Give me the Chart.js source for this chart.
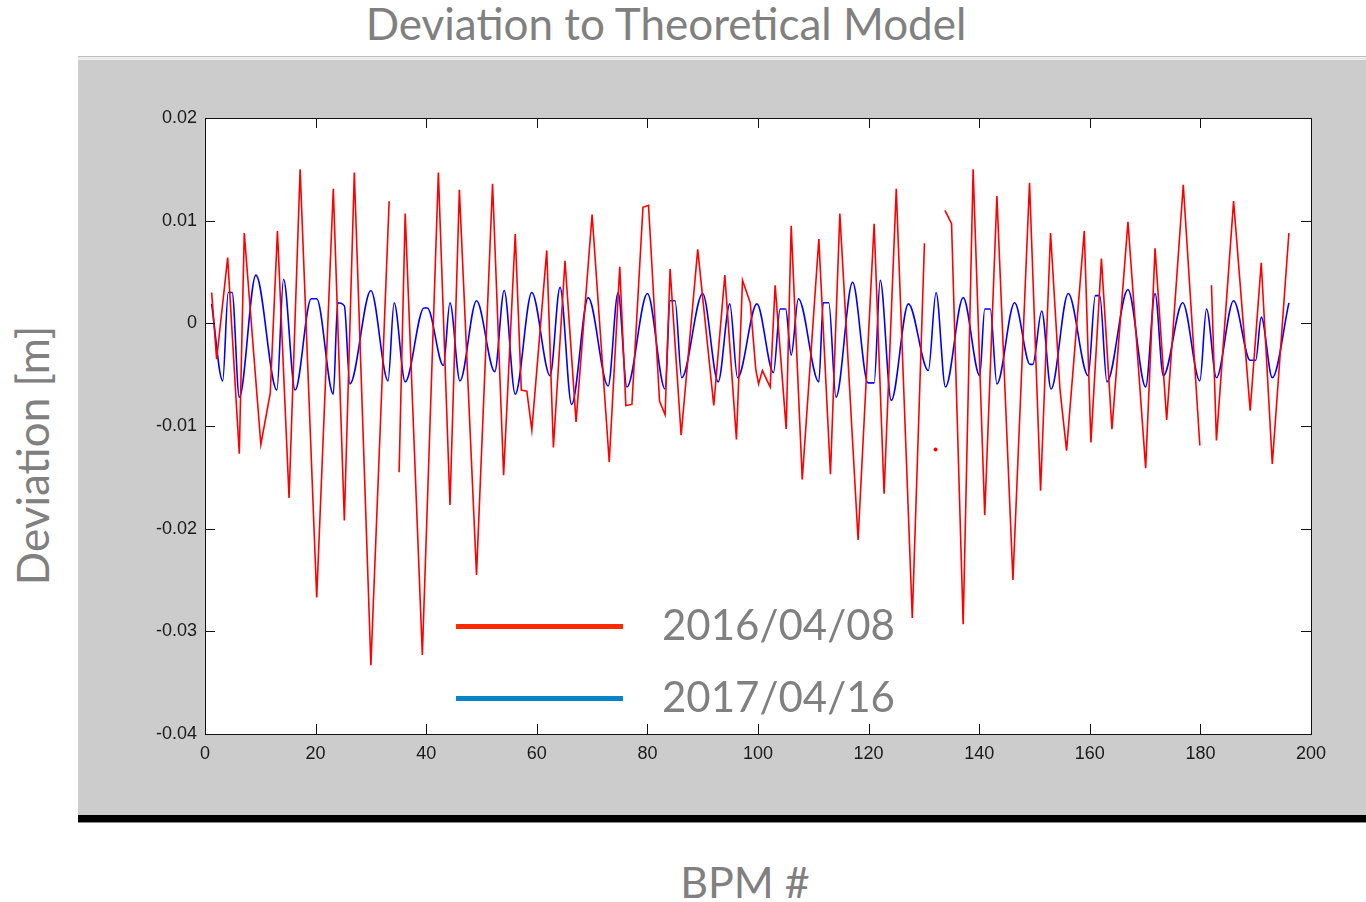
<!DOCTYPE html>
<html>
<head>
<meta charset="utf-8">
<script src="https://cdn.jsdelivr.net/npm/chart.js@4.4.1/dist/chart.umd.min.js"></script>
<style>
  html, body { margin:0; padding:0; background:#ffffff; }
  #wrap { position:relative; width:1366px; height:902px; overflow:hidden; }
  .abs { position:absolute; }
  .txt { font-family: Lato, "Open Sans", sans-serif; color:#808080; line-height:1.2; white-space:nowrap; }
  canvas { position:absolute; left:0; top:0; }
</style>
</head>
<body>
<div id="wrap">
  <div class="abs" style="left:78px;top:56px;width:1288px;height:1px;background:#bdbdbd"></div>
  <div class="abs" style="left:78px;top:57px;width:1288px;height:3px;background:#ececec"></div>
  <div class="abs" style="left:78px;top:60px;width:1288px;height:755px;background:#cccccc"></div>
  <div class="abs" style="left:78px;top:815px;width:1288px;height:7px;background:#000000"></div>
  <div class="abs" style="left:78px;top:822px;width:1288px;height:1px;background:#8a8a8a"></div>

  <div id="title" class="abs txt" style="left:266px;width:800px;text-align:center;top:-3px;font-size:44px"></div>
  <div id="xtitle" class="abs txt" style="left:545px;width:400px;text-align:center;top:856px;font-size:43px"></div>
  <div id="ytitle" class="abs txt" style="left:-168px;width:400px;height:53px;text-align:center;top:429px;font-size:44px;transform:rotate(-90deg);transform-origin:50% 50%"></div>

  <canvas id="c" width="1366" height="902"></canvas>
  <div id="legend"></div>
</div>
<script>
// ---- text ----
const chartTitle = "Deviation to Theoretical Model";
const xAxisTitle = "BPM #";
const yAxisTitle = "Deviation [m]";

// ---- tick labels ----
const xTickValues = [0, 20, 40, 60, 80, 100, 120, 140, 160, 180, 200];
const xTickLabels = ["0", "20", "40", "60", "80", "100", "120", "140", "160", "180", "200"];
const yTickValues = [-0.04, -0.03, -0.02, -0.01, 0, 0.01, 0.02];
const yTickLabels = ["-0.04", "-0.03", "-0.02", "-0.01", "0", "0.01", "0.02"];

// ---- series ----
const seriesLabels = ["2016/04/08", "2017/04/16"];

// 2016/04/08 (red); null = gap in the trace
const redX = [1.2, 2.1, 4.1, 6.2, 7.1, 10.1, 11.8, 13.1, 15.2, 17.2, 20.2, 23.2, 25.2, 27, 30, 33.3,
  34.2, 35.1, 36.2, 39.3, 42.2, 44.3, 46, 49.1, 52, 54, 56.1, 57.2, 58.2, 59.1, 61.8, 63, 65.1, 67.1,
  70, 73.1, 75, 76.1, 77.2, 79.2, 80.2, 82.2, 83.2, 84.1, 86.1, 89.1, 92, 94, 96.1, 97.2, 98.6, 99.6,
  100.1, 100.8, 102.2, 103.1, 105.1, 106, 108, 111, 113.1, 114.8, 118.1, 121, 122.8, 125, 127.9, 130.1,
  131, 132.1, 133, 133.8, 135, 137.1, 138.9, 141, 143.2, 146.1, 149.1, 151.1, 152.9, 154.6, 155.8, 159,
  160.2, 162.1, 164, 166.9, 170.1, 171.8, 173.9, 176.9, 179.9, 181, 182, 182.9, 186, 189, 191, 193, 196];
const redY = [0.003, -0.0035, 0.0064, -0.0127, 0.0088, -0.0118, -0.0068, 0.009, -0.017, 0.015, -0.0267, 0.0131, -0.0192, 0.0147, -0.0333, 0.0119,
  null, -0.0145, 0.0107, -0.0323, 0.0147, -0.0177, 0.013, -0.0245, 0.0136, -0.0148, 0.0087, -0.0065, -0.0066, -0.0104, 0.0071, -0.0121, 0.0061, -0.0096,
  0.0106, -0.0135, 0.0055, -0.008, -0.0079, 0.0113, 0.0115, -0.0076, -0.0089, 0.0053, -0.0109, 0.0072, -0.008, 0.0047, -0.0113, 0.0042, 0.002, -0.0045,
  -0.0059, -0.0046, -0.0062, 0.0037, -0.0103, 0.0095, -0.0152, 0.0082, -0.0147, 0.0107, -0.0211, 0.0097, -0.0166, 0.0131, -0.0287, 0.0078,
  null, -0.0123, null, 0.011, 0.0097, -0.0293, 0.015, -0.0187, 0.0124, -0.025, 0.0137, -0.0163, 0.0088, -0.0064, -0.0124, 0.009,
  -0.0116, 0.0063, -0.0103, 0.0099, -0.0141, 0.0073, -0.0094, 0.0135, -0.0119, null, 0.0037, -0.0114, 0.0119, -0.0085, 0.0059, -0.0137, 0.0088];

// 2017/04/16 (blue)
const blueX = [1.2, 3.2, 4.2, 4.9, 6.2, 9.2, 13, 14.2, 16.3, 19.2, 20.2, 23.2, 24, 25.2, 26.2, 30, 33.1,
  34.2, 36.2, 39.6, 40.2, 43.1, 44.3, 46.1, 49.1, 52.4, 54.1, 56.1, 59.1, 62.4, 64.2, 66.3, 69.3, 72.9,
  74.7, 76.3, 80, 83.2, 84.1, 85, 86.2, 90, 92.8, 94.9, 96.3, 99.8, 102.8, 104, 105, 106, 107.3, 111,
  111.8, 112.8, 114.1, 117.1, 119.9, 121, 122.1, 124.1, 127.2, 130.8, 132.2, 133.9, 137.1, 140.1, 141,
  142, 143.2, 146.4, 149.2, 149.7, 151.3, 153, 156.1, 159.7, 161, 161.8, 163.1, 166.9, 170.1, 171.8,
  173.3, 176.8, 179.9, 181.1, 182.9, 186, 189, 190, 191, 193, 196];
const blueY = [0.0019, -0.0056, 0.003, 0.003, -0.0072, 0.0047, -0.0065, 0.0043, -0.0065, 0.0024, 0.0024, -0.0069, 0.002, 0.0017, -0.0059, 0.0032, -0.0056,
  0.002, -0.0057, 0.0015, 0.0015, -0.0041, 0.002, -0.0056, 0.0022, -0.0047, 0.0032, -0.0069, 0.003, -0.0051, 0.0035, -0.0079, 0.0025, -0.0061,
  0.003, -0.0062, 0.0029, -0.0064, 0.0022, 0.0022, -0.0053, 0.0029, -0.0057, 0.0019, -0.0053, 0.0019, -0.0048, 0.0014, 0.0014, -0.0031, 0.0024, -0.0057,
  0.002, 0.002, -0.0072, 0.004, -0.0058, -0.0058, 0.0042, -0.0075, 0.0019, -0.0046, 0.003, -0.0062, 0.0025, -0.0051, 0.0014,
  0.0014, -0.0059, 0.002, -0.004, -0.004, 0.0012, -0.0064, 0.0029, -0.0051, 0.0027, 0.0027, -0.0057, 0.0033, -0.0062, 0.0029,
  -0.0051, 0.002, -0.0056, 0.0014, -0.0053, 0.0022, -0.0036, -0.0036, 0.0006, -0.0053, 0.002];

// ---- styles ----
const lineColors = ["#ff0000", "#0000ff"];
const legendColors = ["#ff2a00", "#0a84c8"];

document.getElementById('title').textContent = chartTitle;
document.getElementById('xtitle').textContent = xAxisTitle;
document.getElementById('ytitle').textContent = yAxisTitle;

const toPts = (xs, ys) => xs.map((x, i) => ({ x: x, y: ys[i] }));

const frame = {
  id: 'frame',
  beforeDatasetsDraw(chart) {
    const a = chart.chartArea, ctx = chart.ctx;
    ctx.save();
    ctx.fillStyle = '#ffffff';
    ctx.fillRect(a.left, a.top, a.right - a.left, a.bottom - a.top);
    ctx.restore();
  },
  afterDatasetsDraw(chart) {
    const a = chart.chartArea, ctx = chart.ctx;
    const xs = chart.scales.x, ys = chart.scales.y;
    const L = 10;
    ctx.save();
    ctx.strokeStyle = '#111111';
    ctx.lineWidth = 1;
    ctx.beginPath();
    xs.ticks.forEach(t => {
      const px = Math.round(xs.getPixelForValue(t.value)) + 0.5;
      ctx.moveTo(px, a.bottom); ctx.lineTo(px, a.bottom - L);
      ctx.moveTo(px, a.top); ctx.lineTo(px, a.top + L);
    });
    ys.ticks.forEach(t => {
      const py = Math.round(ys.getPixelForValue(t.value)) + 0.5;
      ctx.moveTo(a.left, py); ctx.lineTo(a.left + L, py);
      ctx.moveTo(a.right, py); ctx.lineTo(a.right - L, py);
    });
    ctx.stroke();
    ctx.strokeRect(Math.round(a.left) + 0.5, Math.round(a.top) + 0.5,
                   Math.round(a.right - a.left), Math.round(a.bottom - a.top));
    ctx.restore();
  }
};

const isolated = (ys) => (ctx) => {
  const i = ctx.dataIndex;
  return (ys[i] !== null && ys[i - 1] === null && ys[i + 1] === null) ? 1.2 : 0;
};

const tickFont = { family: '"Liberation Sans", Arial, sans-serif', size: 18 };

const chart = new Chart(document.getElementById('c'), {
  type: 'scatter',
  data: {
    datasets: [
      { label: seriesLabels[0], data: toPts(redX, redY), showLine: true, borderColor: lineColors[0],
        backgroundColor: lineColors[0], borderWidth: 1.6, pointRadius: isolated(redY), pointHoverRadius: 0,
        spanGaps: false, tension: 0 },
      { label: seriesLabels[1], data: toPts(blueX, blueY), showLine: true, borderColor: lineColors[1],
        backgroundColor: lineColors[1], borderWidth: 1.6, pointRadius: 0, pointHoverRadius: 0,
        spanGaps: false, cubicInterpolationMode: 'monotone' }
    ]
  },
  options: {
    responsive: false,
    animation: false,
    devicePixelRatio: 1,
    layout: { padding: { left: 0, top: 118, right: 55, bottom: 0 } },
    plugins: { legend: { display: false }, title: { display: false }, tooltip: { enabled: false } },
    scales: {
      x: {
        type: 'linear', min: 0, max: 200,
        afterBuildTicks: s => { s.ticks = xTickValues.map(v => ({ value: v })); },
        afterFit: s => { s.height = 168; },
        grid: { display: false, drawTicks: false },
        border: { display: false },
        ticks: { padding: 9, color: '#1a1a1a', font: tickFont, maxRotation: 0,
          callback: (v) => { const i = xTickValues.indexOf(v); return i >= 0 ? xTickLabels[i] : ''; } }
      },
      y: {
        type: 'linear', min: -0.04, max: 0.02,
        afterBuildTicks: s => { s.ticks = yTickValues.map(v => ({ value: v })); },
        afterFit: s => { s.width = 205; },
        grid: { display: false, drawTicks: false },
        border: { display: false },
        ticks: { padding: 8, color: '#1a1a1a', font: tickFont,
          callback: (v) => { const i = yTickValues.findIndex(t => Math.abs(t - v) < 1e-9); return i >= 0 ? yTickLabels[i] : ''; } }
      }
    }
  },
  plugins: [frame]
});

// HTML legend built from the chart's datasets
const lg = document.getElementById('legend');
const legendRows = [{ lineY: 626, textTop: 599 }, { lineY: 698.5, textTop: 671 }];
chart.data.datasets.forEach((ds, i) => {
  const sw = document.createElement('div');
  sw.className = 'abs';
  sw.style.cssText = `left:456px;top:${legendRows[i].lineY - 2.5}px;width:167px;height:5px;background:${legendColors[i]}`;
  lg.appendChild(sw);
  const tx = document.createElement('div');
  tx.className = 'abs txt';
  tx.style.cssText = `left:662px;top:${legendRows[i].textTop}px;font-size:42px`;
  tx.textContent = ds.label;
  lg.appendChild(tx);
});
</script>
</body>
</html>
